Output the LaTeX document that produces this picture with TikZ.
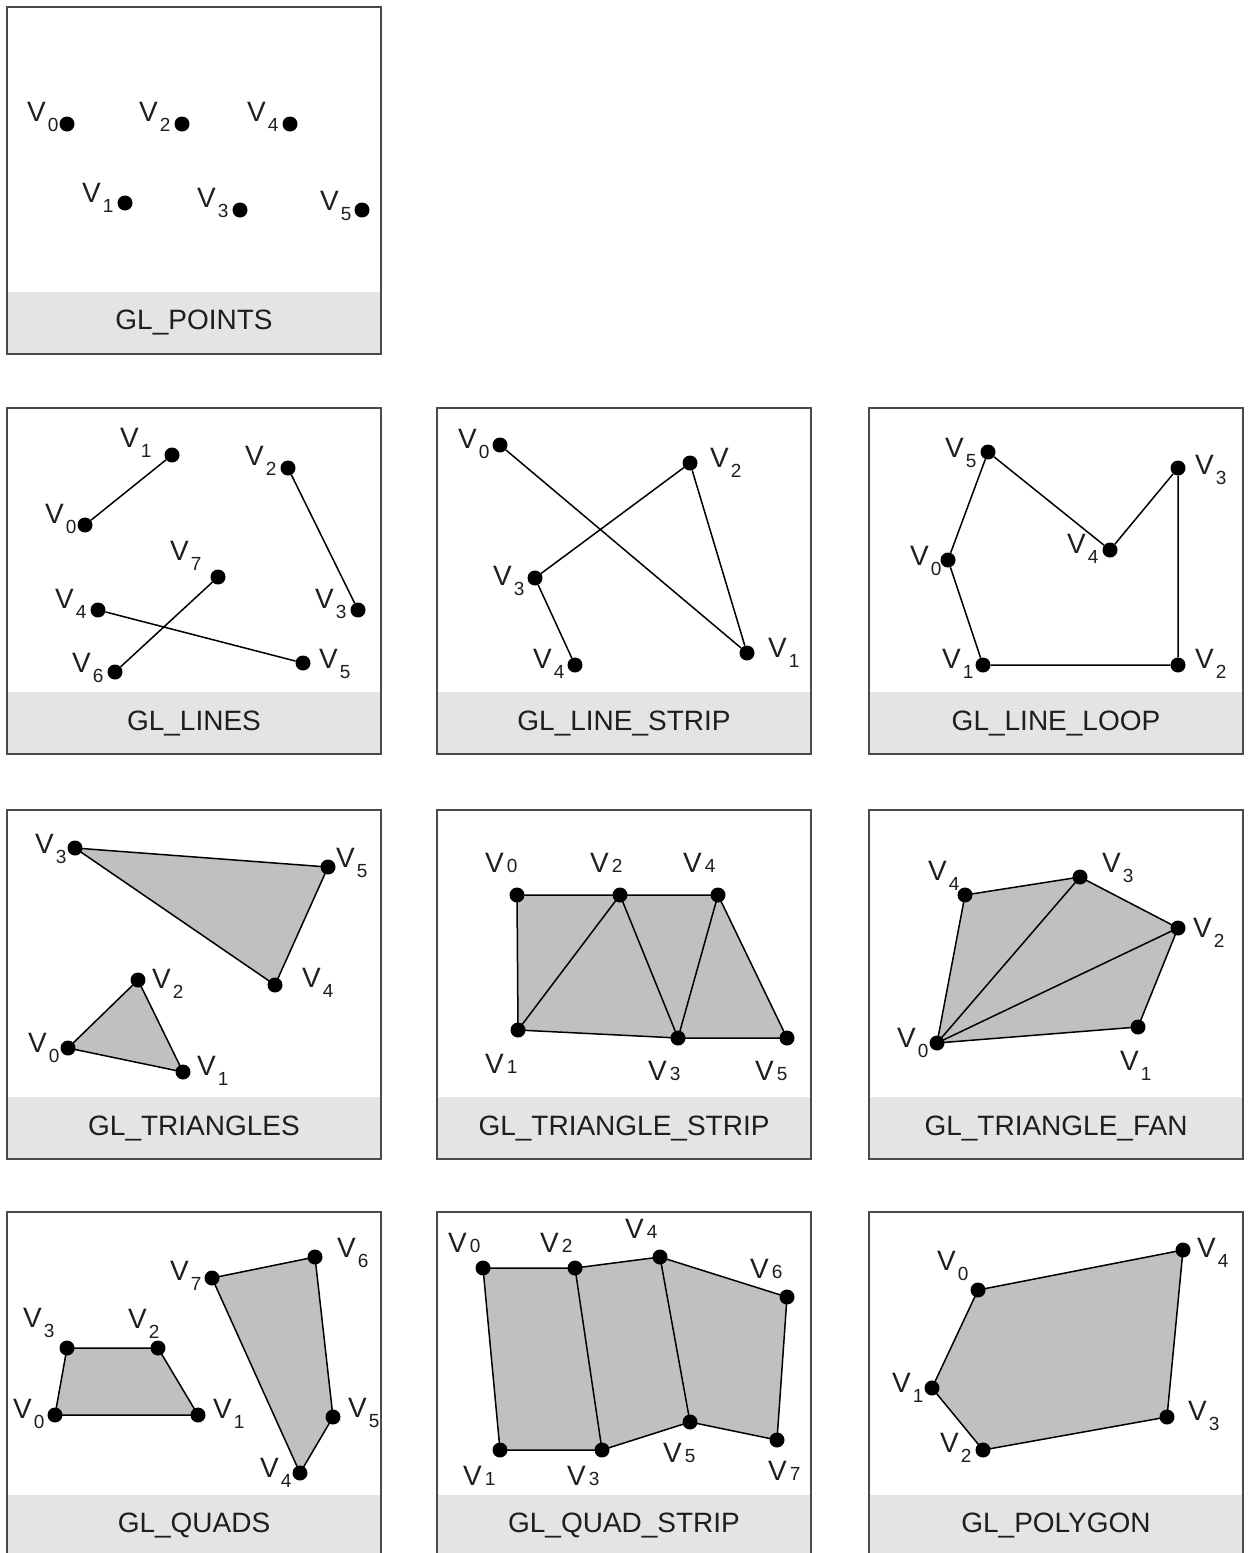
\documentclass[tikz,border=0pt]{standalone}
\usepackage{fontspec}
\setmainfont{Liberation Sans}
\usetikzlibrary{backgrounds}
\definecolor{framegray}{HTML}{4A4A4A}
\definecolor{bandgray}{HTML}{E4E4E4}
\definecolor{facegray}{HTML}{C0C0C0}
\definecolor{inkgray}{HTML}{1E1E1E}
\newcommand{\vname}[1]{V\kern2pt\raisebox{-10pt}{\fontsize{19}{19}\selectfont #1}}
\newcommand{\vnameflat}[1]{V\kern3pt{\fontsize{19}{19}\selectfont #1}}

\begin{document}
\begin{tikzpicture}[x=1pt, y=-1pt,
  frame/.style={draw=framegray, line width=1.4pt},
  band/.style={fill=bandgray},
  title/.style={font=\fontsize{28}{28}\selectfont, text=inkgray},
  dot/.style={circle, fill=black, inner sep=0pt, minimum size=15pt},
  vlab/.style={anchor=base west, inner sep=0pt, font=\fontsize{28}{28}\selectfont, text=inkgray},
  edge/.style={line width=1.5pt},
  face/.style={fill=facegray, draw=black, line width=1.5pt, line join=round}]
\useasboundingbox (0,0) rectangle (1251,1553);

% panels: name/left/top/bottom/band top/title
\foreach \name/\xl/\yt/\yb/\yband/\title in {
  points/7/7/354/292/GL\_POINTS,
  lines/7/408/754/692/GL\_LINES,
  linestrip/437/408/754/692/GL\_LINE\_STRIP,
  lineloop/869/408/754/692/GL\_LINE\_LOOP,
  triangles/7/810/1159/1097/GL\_TRIANGLES,
  tristrip/437/810/1159/1097/GL\_TRIANGLE\_STRIP,
  trifan/869/810/1159/1097/GL\_TRIANGLE\_FAN,
  quads/7/1212/1556/1495/GL\_QUADS,
  quadstrip/437/1212/1556/1495/GL\_QUAD\_STRIP,
  polygon/869/1212/1556/1495/GL\_POLYGON} {
  \fill[band] (\xl,\yband) rectangle (\xl+374,\yb);
  \draw[frame] (\xl,\yt) rectangle (\xl+374,\yb);
  \node[title] (\name) at (\xl+187,{(\yband+\yb)/2}) {\title};
}

% GL_POINTS
\foreach \d/\x/\y/\lx/\ly in {0/67/124/27/121,1/125/203/82/202,2/182/124/139/121,
  3/240/210/197/207,4/290/124/247/121,5/362/210/320/210} {
  \node[dot] (pts\d) at (\x,\y) {};
  \node[vlab] (pts\d-lab) at (\lx,\ly) {\vname{\d}};
}

% GL_LINES
\foreach \d/\x/\y/\lx/\ly in {0/85/525/45/523,1/172/455/120/447,2/288/468/245/465,
  3/358/610/315/608,4/98/610/55/608,5/303/663/319/668,6/115/672/72/672,7/218/577/170/560} {
  \node[dot] (lin\d) at (\x,\y) {};
  \node[vlab] (lin\d-lab) at (\lx,\ly) {\vname{\d}};
}
\draw[edge] (lin0) -- (lin1) (lin2) -- (lin3) (lin4) -- (lin5) (lin6) -- (lin7);

% GL_LINE_STRIP
\foreach \d/\x/\y/\lx/\ly in {0/500/445/458/448,1/747/653/768/657,2/690/463/710/467,
  3/535/578/493/585,4/575/665/533/668} {
  \node[dot] (lst\d) at (\x,\y) {};
  \node[vlab] (lst\d-lab) at (\lx,\ly) {\vname{\d}};
}
\draw[edge] (lst0) -- (lst1) -- (lst2) -- (lst3) -- (lst4);

% GL_LINE_LOOP
\foreach \d/\x/\y/\lx/\ly in {0/948/560/910/565,1/983/665/942/668,2/1178/665/1195/668,
  3/1178/468/1195/474,4/1110/550/1067/553,5/988/452/945/457} {
  \node[dot] (llp\d) at (\x,\y) {};
  \node[vlab] (llp\d-lab) at (\lx,\ly) {\vname{\d}};
}
\draw[edge] (llp0) -- (llp1) -- (llp2) -- (llp3) -- (llp4) -- (llp5) -- (llp0);

% GL_TRIANGLES
\foreach \d/\x/\y/\lx/\ly in {0/68/1048/28/1052,1/183/1072/197/1075,2/138/980/152/988,
  3/75/848/35/853,4/275/985/302/987,5/328/867/336/867} {
  \node[dot] (tri\d) at (\x,\y) {};
  \node[vlab] (tri\d-lab) at (\lx,\ly) {\vname{\d}};
}

% GL_TRIANGLE_STRIP
\foreach \d/\x/\y/\lx/\ly in {0/517/895/485/872,1/518/1030/485/1073,2/620/895/590/872,
  3/678/1038/648/1080,4/718/895/683/872,5/787/1038/755/1080} {
  \node[dot] (tst\d) at (\x,\y) {};
  \node[vlab] (tst\d-lab) at (\lx,\ly) {\vnameflat{\d}};
}

% GL_TRIANGLE_FAN
\foreach \d/\x/\y/\lx/\ly in {0/937/1043/897/1047,1/1138/1027/1120/1070,2/1178/928/1193/937,
  3/1080/877/1102/872,4/965/895/928/880} {
  \node[dot] (fan\d) at (\x,\y) {};
  \node[vlab] (fan\d-lab) at (\lx,\ly) {\vname{\d}};
}

% GL_QUADS
\foreach \d/\x/\y/\lx/\ly in {0/55/1415/13/1418,1/198/1415/213/1418,2/158/1348/128/1328,
  3/67/1348/23/1327,4/300/1473/260/1477,5/333/1417/348/1417,6/315/1257/337/1257,7/212/1278/170/1280} {
  \node[dot] (qd\d) at (\x,\y) {};
  \node[vlab] (qd\d-lab) at (\lx,\ly) {\vname{\d}};
}

% GL_QUAD_STRIP
\foreach \d/\x/\y/\lx/\ly in {0/483/1268/448/1252,1/500/1450/463/1485,2/575/1268/540/1252,
  3/602/1450/567/1485,4/660/1257/625/1238,5/690/1422/663/1462,6/787/1297/750/1278,7/777/1440/768/1480} {
  \node[dot] (qst\d) at (\x,\y) {};
  \node[vlab] (qst\d-lab) at (\lx,\ly) {\vnameflat{\d}};
}

% GL_POLYGON
\foreach \d/\x/\y/\lx/\ly in {0/978/1290/937/1270,1/932/1388/892/1392,2/983/1450/940/1452,
  3/1167/1417/1188/1420,4/1183/1250/1197/1257} {
  \node[dot] (pol\d) at (\x,\y) {};
  \node[vlab] (pol\d-lab) at (\lx,\ly) {\vname{\d}};
}

% filled primitives behind the dots
\begin{pgfonlayer}{background}
\draw[face] (tri0.center) -- (tri1.center) -- (tri2.center) -- cycle;
\draw[face] (tri3.center) -- (tri4.center) -- (tri5.center) -- cycle;
\draw[face] (tst0.center) -- (tst2.center) -- (tst4.center) -- (tst5.center)
  -- (tst3.center) -- (tst1.center) -- cycle;
\draw[edge] (tst1.center) -- (tst2.center) -- (tst3.center) -- (tst4.center);
\draw[face] (fan0.center) -- (fan1.center) -- (fan2.center) -- (fan3.center) -- (fan4.center) -- cycle;
\draw[edge] (fan2.center) -- (fan0.center) -- (fan3.center);
\draw[face] (qd0.center) -- (qd1.center) -- (qd2.center) -- (qd3.center) -- cycle;
\draw[face] (qd4.center) -- (qd5.center) -- (qd6.center) -- (qd7.center) -- cycle;
\draw[face] (qst0.center) -- (qst2.center) -- (qst4.center) -- (qst6.center)
  -- (qst7.center) -- (qst5.center) -- (qst3.center) -- (qst1.center) -- cycle;
\draw[edge] (qst2.center) -- (qst3.center) (qst4.center) -- (qst5.center);
\draw[face] (pol0.center) -- (pol1.center) -- (pol2.center) -- (pol3.center) -- (pol4.center) -- cycle;
\end{pgfonlayer}
\end{tikzpicture}
\end{document}
